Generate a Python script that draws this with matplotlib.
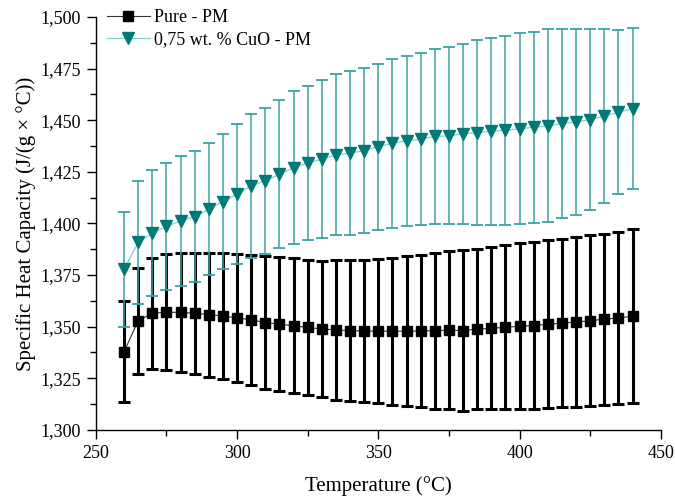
import numpy as np
import matplotlib
matplotlib.use("Agg")
import matplotlib.pyplot as plt
from matplotlib.ticker import MultipleLocator, FuncFormatter

# temperature steps (°C)
temps = list(range(260, 445, 5))

# Pure - PM : mean and error (J/(g x °C))
pure_cp = [1.3379, 1.3529, 1.3565, 1.3570, 1.3569, 1.3565, 1.3558, 1.3552,
           1.3542, 1.3533, 1.3520, 1.3512, 1.3504, 1.3496, 1.3489, 1.3484,
           1.3481, 1.3479, 1.3478, 1.3478, 1.3478, 1.3479, 1.3481, 1.3483,
           1.3481, 1.3488, 1.3492, 1.3497, 1.3502, 1.3505, 1.3512, 1.3517,
           1.3522, 1.3529, 1.3536, 1.3542, 1.3551]
pure_err = [0.0244, 0.0257, 0.0269, 0.0281, 0.0288, 0.0294, 0.0300, 0.0305,
            0.0311, 0.0315, 0.0321, 0.0325, 0.0327, 0.0327, 0.0330, 0.0337,
            0.0342, 0.0344, 0.0350, 0.0356, 0.0363, 0.0368, 0.0378, 0.0383,
            0.0389, 0.0389, 0.0393, 0.0398, 0.0401, 0.0404, 0.0406, 0.0408,
            0.0410, 0.0414, 0.0414, 0.0417, 0.0422]

# 0,75 wt. % CuO - PM
cuo_cp = [1.3778, 1.3908, 1.3954, 1.3985, 1.4012, 1.4033, 1.4069, 1.4106,
          1.4141, 1.4182, 1.4207, 1.4238, 1.4270, 1.4292, 1.4311, 1.4332,
          1.4340, 1.4353, 1.4372, 1.4388, 1.4400, 1.4408, 1.4421, 1.4424,
          1.4433, 1.4440, 1.4446, 1.4451, 1.4458, 1.4466, 1.4472, 1.4484,
          1.4492, 1.4503, 1.4519, 1.4538, 1.4556]
cuo_err = [0.0279, 0.0299, 0.0307, 0.0309, 0.0314, 0.0319, 0.0321, 0.0325,
           0.0340, 0.0349, 0.0353, 0.0359, 0.0369, 0.0374, 0.0383, 0.0390,
           0.0397, 0.0401, 0.0402, 0.0410, 0.0412, 0.0417, 0.0425, 0.0429,
           0.0438, 0.0446, 0.0453, 0.0458, 0.0463, 0.0463, 0.0467, 0.0459,
           0.0449, 0.0437, 0.0420, 0.0398, 0.0391]

plt.rcParams["font.family"] = ["Liberation Serif", "DejaVu Serif"]

fig = plt.figure(figsize=(6.75, 4.97), dpi=100)
ax = fig.add_axes([0.142, 0.135, 0.837, 0.831])

# Pure series
ax.errorbar(temps, pure_cp, yerr=pure_err, fmt="none", ecolor="black",
            elinewidth=2.2, capsize=4.2, capthick=2.2, zorder=2)
ax.plot(temps, pure_cp, color="#333333", lw=0.8, marker="s", ms=7,
        mfc="black", mec="black", label="Pure - PM", zorder=3)

# CuO series
ax.errorbar(temps, cuo_cp, yerr=cuo_err, fmt="none", ecolor="#3aa3a3",
            elinewidth=1.1, capsize=4.2, capthick=1.3, zorder=4)
ax.plot(temps, cuo_cp, color="#7fcfcf", lw=0.9, marker="v", ms=9,
        mfc="#007a78", mec="#007a78", label="0,75 wt. % CuO - PM", zorder=5)

ax.set_xlim(250, 450)
ax.set_ylim(1.300, 1.500)
ax.xaxis.set_major_locator(MultipleLocator(50))
ax.xaxis.set_minor_locator(MultipleLocator(25))
ax.yaxis.set_major_locator(MultipleLocator(0.025))
ax.yaxis.set_minor_locator(MultipleLocator(0.0125))
ax.yaxis.set_major_formatter(FuncFormatter(lambda v, p: f"{v:.3f}".replace(".", ",")))

ax.spines["top"].set_visible(False)
ax.spines["right"].set_visible(False)
ax.spines["left"].set_linewidth(1.0)
ax.spines["bottom"].set_linewidth(1.0)
ax.tick_params(which="major", direction="out", length=6.5, width=1.0,
               labelsize=13, pad=4.5)
ax.tick_params(which="minor", direction="out", length=4, width=1.0)

ax.set_xlabel("Temperature (°C)", fontsize=15, labelpad=10)
ax.set_ylabel("Specific Heat Capacity (J/(g × °C))", fontsize=15, labelpad=3)

ax.legend(loc="upper left", frameon=False, fontsize=13,
          bbox_to_anchor=(0.0, 1.045), handlelength=2.4, handletextpad=0.2,
          labelspacing=0.3, borderaxespad=0.2)

fig.savefig("out.png", dpi=100)
